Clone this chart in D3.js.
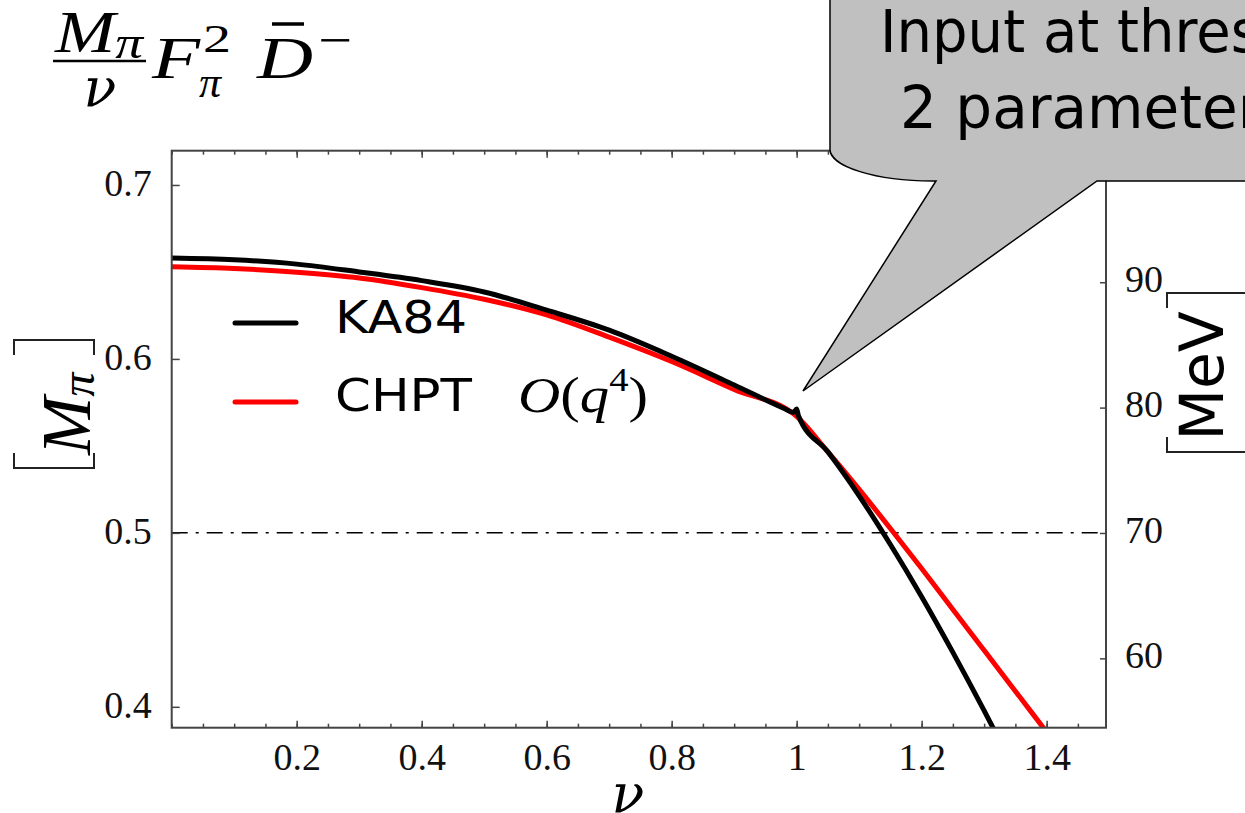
<!DOCTYPE html>
<html>
<head>
<meta charset="utf-8">
<script src="https://cdn.jsdelivr.net/npm/d3@7"></script>
<style>
  body { margin: 0; background: #fff; }
  svg { display: block; }
</style>
</head>
<body>
<div id="wrapper"></div>
<script>
// values: nu on x, M_pi (in units of the left axis) on y
var nuKA84 = [0, 0.1, 0.2, 0.3, 0.4, 0.5, 0.6, 0.7, 0.8, 0.9, 0.98, 0.995, 1.0, 1.003, 1.05, 1.1, 1.15, 1.2, 1.25, 1.3, 1.33];
var mKA84  = [0.658, 0.657, 0.6545, 0.650, 0.645, 0.6385, 0.628, 0.6165, 0.6015, 0.585, 0.5715, 0.5692, 0.5712, 0.5672, 0.5466, 0.5213, 0.4933, 0.4633, 0.4313, 0.3978, 0.377];

var nuCHPT = [0, 0.1, 0.2, 0.3, 0.4, 0.5, 0.6, 0.7, 0.8, 0.9, 1.0, 1.05, 1.1, 1.15, 1.2, 1.25, 1.3, 1.35, 1.4];
var mCHPT  = [0.653, 0.652, 0.6498, 0.6465, 0.641, 0.6343, 0.6253, 0.6125, 0.5985, 0.5825, 0.567, 0.5465, 0.525, 0.5025, 0.4795, 0.456, 0.4325, 0.409, 0.3855];

var xTicks = [0.2, 0.4, 0.6, 0.8, 1, 1.2, 1.4];
var xTickLabels = ["0.2", "0.4", "0.6", "0.8", "1", "1.2", "1.4"];
var yTicks = [0.4, 0.5, 0.6, 0.7];
var yTickLabels = ["0.4", "0.5", "0.6", "0.7"];
var mevTicks = [60, 70, 80, 90];
var mevTickLabels = ["60", "70", "80", "90"];
var refLevel = 0.5;

var seriesNames = ["KA84", "CHPT"];
var seriesColors = ["#000000", "#ff0000"];

const width = 1245;
const height = 813;

let dims = {
    left: 171.7,
    right: 1106,
    top: 150.7,
    bottom: 727.7
}

const svg = d3.select("#wrapper")
    .append("svg")
    .attr("width", width)
    .attr("height", height)
    .style("background", "#fff");

var xScale = d3.scaleLinear().domain([0, 1.495]).range([dims.left, dims.right]);
var yScale = d3.scaleLinear().domain([0.388, 0.7197]).range([dims.bottom, dims.top]);
var mevScale = d3.scaleLinear().domain([54.47, 100.49]).range([dims.bottom, dims.top]);

const serif = "'Liberation Serif', 'Times New Roman', serif";
const greek = "'DejaVu Serif', 'Liberation Serif', serif";
const sans = "'DejaVu Sans', Verdana, sans-serif";
const axisColor = "#444";

svg.append("defs").append("clipPath")
    .attr("id", "plotclip")
    .append("rect")
    .attr("x", dims.left)
    .attr("y", dims.top)
    .attr("width", dims.right - dims.left)
    .attr("height", dims.bottom - dims.top);

// dash-dot reference line at 0.5
svg.append("line")
    .attr("x1", dims.left)
    .attr("x2", dims.right)
    .attr("y1", yScale(refLevel))
    .attr("y2", yScale(refLevel))
    .attr("stroke", "#000")
    .attr("stroke-width", 1.5)
    .attr("stroke-dasharray", "16,8,3,8");

// curves
var line = d3.line()
    .x(d => xScale(d[0]))
    .y(d => yScale(d[1]))
    .curve(d3.curveMonotoneX);

var curves = [
    d3.zip(nuCHPT, mCHPT),
    d3.zip(nuKA84, mKA84)
];
var curveColors = [seriesColors[1], seriesColors[0]];

svg.append("g")
    .attr("clip-path", "url(#plotclip)")
    .selectAll("path")
    .data(curves)
    .enter()
    .append("path")
    .attr("d", d => line(d))
    .attr("fill", "none")
    .attr("stroke", (d, i) => curveColors[i])
    .attr("stroke-width", 5)
    .attr("stroke-linejoin", "round");

// frame
svg.append("rect")
    .attr("x", dims.left)
    .attr("y", dims.top)
    .attr("width", dims.right - dims.left)
    .attr("height", dims.bottom - dims.top)
    .attr("fill", "none")
    .attr("stroke", axisColor)
    .attr("stroke-width", 2);

function styleAxis(g) {
    g.select(".domain").remove();
    g.selectAll(".tick line").attr("stroke", axisColor).attr("stroke-width", 1.5);
    g.selectAll("text").style("font-family", serif).style("font-size", "38px").attr("fill", "#111");
}

// bottom: minor ticks then major with labels
svg.append("g")
    .attr("transform", `translate(0,${dims.bottom})`)
    .call(d3.axisBottom(xScale).tickValues(xScale.ticks(30)).tickSizeInner(-4).tickSizeOuter(0).tickFormat(""))
    .call(styleAxis);
svg.append("g")
    .attr("transform", `translate(0,${dims.bottom})`)
    .call(d3.axisBottom(xScale).tickValues(xTicks).tickSizeInner(-7).tickSizeOuter(0)
        .tickFormat((d, i) => xTickLabels[i]))
    .call(styleAxis)
    .call(g => g.selectAll("text").attr("y", 42).attr("dy", 0));

// top ticks
svg.append("g")
    .attr("transform", `translate(0,${dims.top})`)
    .call(d3.axisTop(xScale).tickValues(xScale.ticks(30)).tickSizeInner(-4).tickSizeOuter(0).tickFormat(""))
    .call(styleAxis);
svg.append("g")
    .attr("transform", `translate(0,${dims.top})`)
    .call(d3.axisTop(xScale).tickValues(xTicks).tickSizeInner(-7).tickSizeOuter(0).tickFormat(""))
    .call(styleAxis);

// left axis
svg.append("g")
    .attr("transform", `translate(${dims.left},0)`)
    .call(d3.axisLeft(yScale).tickValues(yTicks).tickSizeInner(-8).tickSizeOuter(0).tickPadding(20)
        .tickFormat((d, i) => yTickLabels[i]))
    .call(styleAxis)
    .call(g => g.selectAll("text").attr("dy", "0.27em"));

// right axis in MeV
svg.append("g")
    .attr("transform", `translate(${dims.right},0)`)
    .call(d3.axisRight(mevScale).tickValues(mevTicks).tickSizeInner(-6).tickSizeOuter(0).tickPadding(19)
        .tickFormat((d, i) => mevTickLabels[i]))
    .call(styleAxis)
    .call(g => g.selectAll("text").attr("dy", "0.24em"));

// legend
var legend = svg.append("g");
legend.selectAll("line")
    .data(seriesNames)
    .enter()
    .append("line")
    .attr("x1", 235)
    .attr("x2", 296)
    .attr("y1", (d, i) => 323 + i * 79)
    .attr("y2", (d, i) => 323 + i * 79)
    .attr("stroke", (d, i) => seriesColors[i])
    .attr("stroke-width", 5)
    .attr("stroke-linecap", "round");

legend.selectAll("text.name")
    .data(seriesNames)
    .enter()
    .append("text")
    .attr("class", "name")
    .attr("x", 335)
    .attr("y", (d, i) => 333 + i * 78)
    .attr("textLength", (d, i) => i == 0 ? 132 : 137)
    .attr("lengthAdjust", "spacingAndGlyphs")
    .style("font-family", sans)
    .style("font-size", "45px")
    .text(d => d);

var order = legend.append("text")
    .attr("x", 518)
    .attr("y", 412)
    .attr("textLength", 130)
    .attr("lengthAdjust", "spacingAndGlyphs")
    .style("font-family", serif)
    .style("font-size", "50px");
order.append("tspan").style("font-style", "italic").text("O");
order.append("tspan").text("(");
order.append("tspan").style("font-style", "italic").text("q");
order.append("tspan").attr("dy", -21).style("font-size", "33px").text("4");
order.append("tspan").attr("dy", 21).text(")");

// title formula
var title = svg.append("g").style("font-family", serif);
title.append("text").attr("x", 55).attr("y", 52).attr("textLength", 88).attr("lengthAdjust", "spacingAndGlyphs")
    .style("font-size", "60px").style("font-style", "italic")
    .call(t => {
        t.append("tspan").text("M");
        t.append("tspan").attr("dy", 6).style("font-size", "46px").text("π");
    });
title.append("line").attr("x1", 53).attr("x2", 146).attr("y1", 61).attr("y2", 61)
    .attr("stroke", "#000").attr("stroke-width", 2.5);
title.append("text").attr("x", 100).attr("y", 106).attr("text-anchor", "middle")
    .style("font-family", greek)
    .style("font-size", "54px").style("font-style", "italic").text("ν");
title.append("text").attr("x", 152).attr("y", 78).attr("textLength", 48).attr("lengthAdjust", "spacingAndGlyphs")
    .style("font-size", "60px").style("font-style", "italic").text("F");
title.append("text").attr("x", 203).attr("y", 52).attr("textLength", 28).attr("lengthAdjust", "spacingAndGlyphs")
    .style("font-size", "40px").text("2");
title.append("text").attr("x", 199).attr("y", 97).style("font-size", "44px").style("font-style", "italic").text("π");
title.append("text").attr("x", 257).attr("y", 78).attr("textLength", 56).attr("lengthAdjust", "spacingAndGlyphs")
    .style("font-size", "60px").style("font-style", "italic").text("D");
title.append("line").attr("x1", 272).attr("x2", 304).attr("y1", 24).attr("y2", 24)
    .attr("stroke", "#000").attr("stroke-width", 3.5);
title.append("text").attr("x", 318).attr("y", 57).attr("textLength", 34).attr("lengthAdjust", "spacingAndGlyphs")
    .style("font-size", "50px").text("−");

// left axis label [M_pi]
var ylab = svg.append("g");
ylab.append("path")
    .attr("d", "M14,355 L14,340 L94,340 L94,355 M14,453 L14,468 L94,468 L94,453")
    .attr("fill", "none").attr("stroke", "#222").attr("stroke-width", 2);
ylab.append("text")
    .attr("transform", "translate(90,455) rotate(-90)")
    .style("font-family", serif)
    .style("font-size", "70px")
    .style("font-style", "italic")
    .call(t => {
        t.append("tspan").text("M");
        t.append("tspan").attr("dy", 4).style("font-size", "48px").text("π");
    });

// bottom axis label
svg.append("text")
    .attr("x", 628)
    .attr("y", 812)
    .attr("text-anchor", "middle")
    .style("font-family", greek)
    .style("font-size", "54px")
    .style("font-style", "italic")
    .text("ν");

// right axis label [MeV]
var rlab = svg.append("g");
rlab.append("path")
    .attr("d", "M1167,308 L1167,293 L1260,293 M1167,437 L1167,452 L1260,452")
    .attr("fill", "none").attr("stroke", "#222").attr("stroke-width", 2);
rlab.append("text")
    .attr("transform", "translate(1223,376) rotate(-90)")
    .attr("text-anchor", "middle")
    .style("font-family", sans)
    .style("font-size", "60px")
    .text("MeV");

// callout
var callout = svg.append("g");
callout.append("path")
    .attr("d", "M830,-10 L830,148 A103,32 0 0 0 936,181 L803,391 L1097,181 L1260,181 L1260,-10 Z")
    .attr("fill", "#c0c0c0")
    .attr("stroke", "#000")
    .attr("stroke-width", 1.5);
callout.append("text")
    .attr("transform", "translate(880,52) scale(0.95,1)")
    .style("font-family", sans).style("font-size", "59px")
    .text("Input at threshold");
callout.append("text")
    .attr("x", 900).attr("y", 128)
    .style("font-family", sans).style("font-size", "58px")
    .text("2 parameters");
</script>
</body>
</html>
